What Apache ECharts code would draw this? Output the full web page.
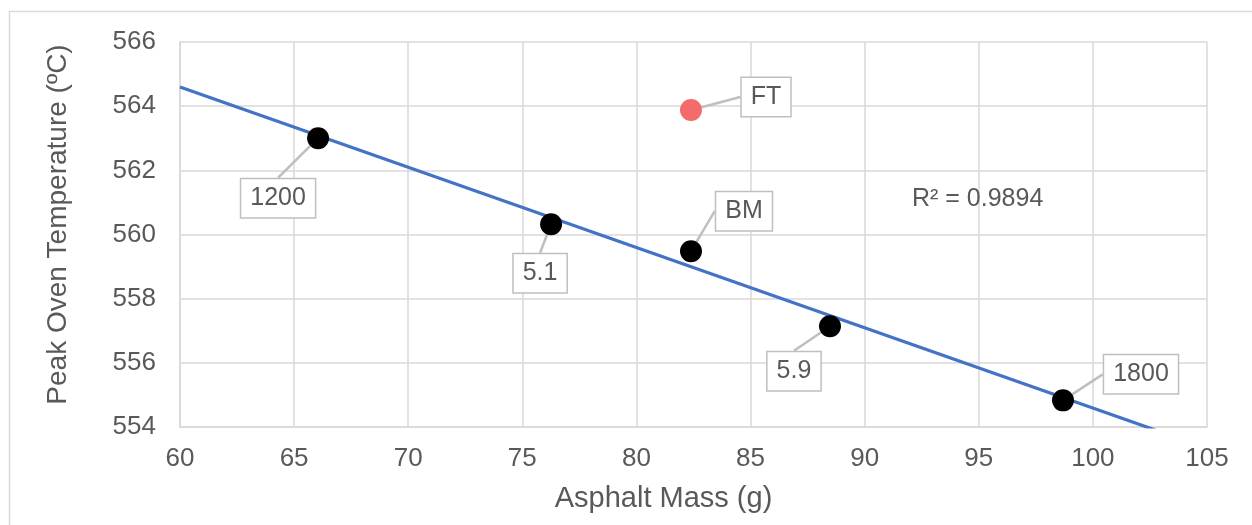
<!DOCTYPE html>
<html>
<head>
<meta charset="utf-8">
<script src="https://cdn.jsdelivr.net/npm/echarts@6/dist/echarts.min.js"></script>
<style>
html,body{margin:0;padding:0;background:#fff;}
#chart{width:1252px;height:525px;}
</style>
</head>
<body>
<div id="chart"></div>
<script>
// Data
const blackX = [66.05, 76.26, 82.39, 88.48, 98.69];
const blackY = [563.0, 560.32, 559.48, 557.14, 554.83];
const blackLabels = ['1200', '5.1', 'BM', '5.9', '1800'];
const redX = [82.39];
const redY = [563.88];
const redLabels = ['FT'];
const trendX = [60, 105];
const trendY = [564.6, 553.34];
const r2Text = 'R² = 0.9894';
const xTitle = 'Asphalt Mass (g)';
const yTitle = 'Peak Oven Temperature (ºC)';

// label offsets (layout only)
const blackOffsets = [[-40, 60], [-11, 49], [53, -40], [-36, 45], [78, -26]];
const redOffsets = [[75, -13]];

const font = 'Liberation Sans, Arial, sans-serif';
const txt = '#595959';
const gridC = '#d9d9d9';

const labelStyle = {
  show: true,
  position: 'inside',
  fontFamily: font,
  fontSize: 25,
  color: txt,
  opacity: 1,
  backgroundColor: '#fff',
  borderColor: '#bfbfbf',
  borderWidth: 1.5,
  padding: [6, 9, 6, 9],
  lineHeight: 26
};

const chart = echarts.init(document.getElementById('chart'), null, {renderer: 'canvas'});
chart.setOption({
  animation: false,
  backgroundColor: '#fff',
  grid: {left: 180, top: 42, right: 45, bottom: 98, containLabel: false},
  graphic: [{
    type: 'rect', left: 7, top: 9, z: -10, silent: true,
    shape: {width: 1300, height: 600},
    style: {fill: 'none', stroke: gridC, lineWidth: 1.5}
  }],
  title: {
    text: r2Text, left: 907, top: 182,
    textStyle: {fontFamily: font, fontSize: 25, fontWeight: 'normal', color: txt}
  },
  xAxis: {
    type: 'value', min: 60, max: 105, interval: 5,
    name: xTitle, nameLocation: 'middle', nameGap: 57,
    nameTextStyle: {fontFamily: font, fontSize: 29, color: txt, padding: [0, 60, 0, 0]},
    axisLine: {show: true, lineStyle: {color: gridC, width: 1.5}},
    axisTick: {show: false},
    axisLabel: {fontFamily: font, fontSize: 26, color: txt, margin: 19},
    splitLine: {show: true, lineStyle: {color: gridC, width: 1.5}}
  },
  yAxis: {
    type: 'value', min: 554, max: 566, interval: 2,
    name: yTitle, nameLocation: 'middle', nameGap: 108,
    nameTextStyle: {fontFamily: font, fontSize: 28, color: txt, padding: [0, 0, 0, 20]},
    axisLine: {show: true, lineStyle: {color: gridC, width: 1.5}},
    axisTick: {show: false},
    axisLabel: {fontFamily: font, fontSize: 26, color: txt, margin: 24},
    splitLine: {show: true, lineStyle: {color: gridC, width: 1.5}}
  },
  series: [
    {
      type: 'line', clip: true, z: 3,
      data: trendX.map((x, i) => [x, trendY[i]]),
      showSymbol: false, symbol: 'none',
      lineStyle: {color: '#4472c4', width: 3.2}
    },
    {
      type: 'scatter', z: 4,
      symbolSize: 22,
      itemStyle: {color: '#000', opacity: 1},
      data: blackX.map((x, i) => ({value: [x, blackY[i]], name: blackLabels[i]})),
      label: Object.assign({}, labelStyle, {formatter: p => p.name}),
      labelLine: {show: true, lineStyle: {color: '#bfbfbf', width: 2.5}},
      labelLayout: p => ({dx: blackOffsets[p.dataIndex][0], dy: blackOffsets[p.dataIndex][1], hideOverlap: false})
    },
    {
      type: 'scatter', z: 4,
      symbolSize: 22,
      itemStyle: {color: '#f36b6b', opacity: 1},
      data: redX.map((x, i) => ({value: [x, redY[i]], name: redLabels[i]})),
      label: Object.assign({}, labelStyle, {formatter: p => p.name}),
      labelLine: {show: true, lineStyle: {color: '#bfbfbf', width: 2.5}},
      labelLayout: p => ({dx: redOffsets[p.dataIndex][0], dy: redOffsets[p.dataIndex][1], hideOverlap: false})
    }
  ]
});
</script>
</body>
</html>
